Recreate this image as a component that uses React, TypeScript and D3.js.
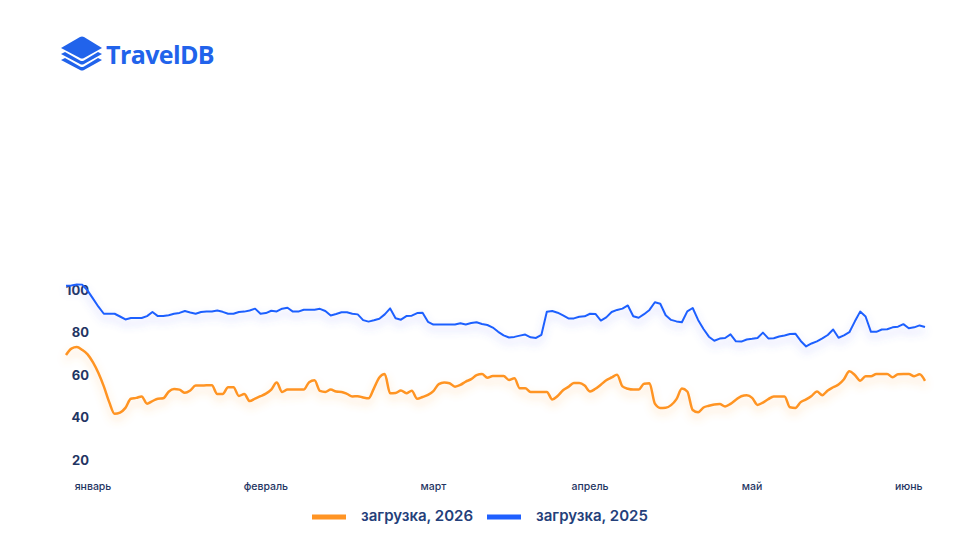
import { scaleLinear, line, curveMonotoneX, curveLinear } from 'd3'

// Daily load, two seasons.
const load2025 = [
  102.5, 102.6, 103.1, 103.0, 100.2, 96.4, 92.6, 89.3, 89.3, 89.3,
  88.0, 86.6, 87.3, 87.3, 87.3, 88.2, 90.1, 88.2, 88.2, 88.6,
  89.3, 89.7, 90.6, 89.9, 89.3, 90.1, 90.4, 90.4, 90.8, 90.2,
  89.3, 89.3, 90.1, 90.3, 90.8, 91.7, 89.3, 89.6, 90.7, 90.4,
  91.7, 92.1, 90.3, 90.3, 91.2, 91.2, 91.2, 91.6, 90.6, 88.5,
  89.2, 90.0, 90.0, 89.3, 89.0, 86.3, 85.6, 86.2, 86.9, 89.0,
  91.8, 87.2, 86.5, 88.2, 88.4, 89.6, 89.8, 85.5, 84.2, 84.2,
  84.2, 84.2, 84.2, 84.8, 84.2, 84.9, 85.3, 84.5, 84.0, 82.8,
  80.8, 79.1, 78.1, 78.4, 79.0, 79.5, 78.2, 77.9, 79.4, 90.2,
  90.6, 89.8, 88.5, 87.1, 87.1, 87.9, 88.1, 89.3, 89.2, 86.1,
  87.6, 90.1, 91.1, 91.7, 93.2, 88.1, 87.4, 89.1, 91.1, 94.7,
  94.0, 88.6, 86.4, 85.7, 85.3, 90.4, 92.0, 86.4, 82.1, 78.5,
  76.6, 77.6, 77.9, 79.6, 76.3, 76.2, 77.2, 77.5, 77.9, 80.4,
  77.7, 77.8, 78.6, 79.1, 79.8, 79.9, 76.5, 73.9, 75.3, 76.3,
  77.7, 79.3, 81.9, 78.0, 79.1, 80.6, 85.6, 90.3, 88.0, 80.8,
  80.8, 81.9, 82.0, 82.9, 83.2, 84.4, 82.5, 82.9, 83.8, 83.1,
]

const load2026 = [
  69.9, 72.9, 73.6, 72.3, 70.2, 66.4, 61.4, 55.1, 47.7, 42.2,
  42.8, 45.0, 49.3, 49.7, 50.4, 47.0, 48.2, 49.3, 49.5, 52.6,
  53.9, 53.6, 52.1, 53.2, 55.5, 55.5, 55.6, 55.6, 51.5, 51.5,
  54.7, 54.7, 50.6, 51.5, 48.2, 49.4, 50.5, 51.7, 53.6, 56.9,
  52.5, 53.6, 53.6, 53.6, 53.6, 57.1, 58.0, 53.0, 52.5, 53.6,
  52.7, 52.5, 51.6, 50.4, 50.5, 49.9, 49.5, 54.2, 59.3, 60.9,
  51.9, 52.0, 53.2, 51.9, 53.1, 49.3, 50.1, 51.1, 52.9, 56.2,
  57.0, 56.6, 55.0, 55.8, 57.4, 58.5, 60.4, 60.9, 59.2, 60.0,
  60.0, 60.0, 58.1, 58.9, 54.2, 54.2, 52.5, 52.5, 52.5, 52.5,
  49.0, 50.6, 53.3, 54.9, 56.7, 56.7, 55.5, 52.7, 54.0, 55.9,
  58.0, 59.3, 60.6, 55.1, 54.0, 53.6, 53.6, 56.4, 56.6, 47.0,
  45.0, 45.1, 46.3, 49.1, 54.1, 52.7, 44.0, 42.9, 45.2, 46.0,
  46.6, 46.8, 45.7, 46.9, 48.8, 50.5, 50.9, 49.7, 46.4, 47.5,
  49.1, 50.4, 50.4, 50.4, 45.3, 45.0, 47.7, 49.0, 50.6, 52.7,
  51.0, 53.2, 54.7, 56.0, 58.5, 62.2, 60.5, 57.8, 59.9, 59.9,
  60.9, 60.9, 60.9, 59.4, 60.8, 60.9, 60.9, 59.9, 60.8, 57.7,
]

const months = ['январь', 'февраль', 'март', 'апрель', 'май', 'июнь']
const monthIndex = [5, 37, 68, 97, 127, 156]
const yTicks = [20, 40, 60, 80, 100]
const seriesNames = ['загрузка, 2026', 'загрузка, 2025']

const W = 960
const H = 540
const ORANGE = '#ff9424'
const BLUE = '#1f60ff'
const INK = '#1f3563'
const FONT = 'Inter, "Noto Sans", sans-serif'

export default function App() {
  const x = scaleLinear().domain([0, load2025.length - 1]).range([66, 925])
  const y = scaleLinear().domain([20, 100]).range([461, 291])
  const path2025 = line<number>()
    .x((_, i) => x(i))
    .y((d) => y(d))
    .curve(curveLinear)(load2025)
  const path2026 = line<number>()
    .x((_, i) => x(i))
    .y((d) => y(d))
    .curve(curveMonotoneX)(load2026)

  return (
    <svg
      width={W}
      height={H}
      viewBox={`0 0 ${W} ${H}`}
      style={{ position: 'fixed', left: 0, top: 0, background: '#fff' }}
      fontFamily={FONT}
    >
      <defs>
        <filter id="glowBlue" x="-5%" y="-50%" width="110%" height="200%">
          <feDropShadow dx={0} dy={5} stdDeviation={4} floodColor="#5a6bff" floodOpacity={0.35} />
        </filter>
        <filter id="glowOrange" x="-5%" y="-50%" width="110%" height="200%">
          <feDropShadow dx={0} dy={5} stdDeviation={4} floodColor="#ffab4a" floodOpacity={0.4} />
        </filter>
      </defs>

      {/* logo */}
      <g fill="#2163eb">
        <path d="M61 48 L80 37 Q82 36 84 37 L102 48 L84 58 Q82 59 80 58 Z" />
        <path d="M61 54 L65 52 L80 60.5 Q82 61.5 84 60.5 L98 52 L102 54 L84 64 Q82 65 80 64 Z" />
        <path d="M61 60 L65 58 L80 66.5 Q82 67.5 84 66.5 L98 58 L102 60 L84 70 Q82 71 80 70 Z" />
      </g>
      <text x={106} y={64} fontSize={25} fontWeight={700} fill="#2163eb" fontFamily='"Open Sans", Inter, sans-serif' letterSpacing={-0.6}>
        TravelDB
      </text>

      {/* y labels */}
      {yTicks.map((t) => (
        <text key={t} x={89} y={y(t)} textAnchor="end" dominantBaseline="middle" fontSize={13} fontWeight={700} fill={INK}>
          {t}
        </text>
      ))}

      {/* lines */}
      {path2025 && (
        <path d={path2025} fill="none" stroke={BLUE} strokeWidth={2} strokeLinejoin="round" filter="url(#glowBlue)" />
      )}
      {path2026 && (
        <path d={path2026} fill="none" stroke={ORANGE} strokeWidth={2.5} strokeLinejoin="round" filter="url(#glowOrange)" />
      )}

      {/* month labels */}
      {months.map((m, i) => (
        <text key={m} x={x(monthIndex[i])} y={487} textAnchor="middle" dominantBaseline="middle" fontSize={10.5} fontWeight={500} fill={INK}>
          {m}
        </text>
      ))}

      {/* legend */}
      {seriesNames.map((name, i) => {
        const lx = 312 + i * 175
        return (
          <g key={name}>
            <line x1={lx} x2={lx + 34} y1={517} y2={517} stroke={i === 0 ? ORANGE : BLUE} strokeWidth={5} />
            <text x={lx + 49} y={517} dominantBaseline="middle" fontSize={15} fontWeight={600} fill="#24407a">
              {name}
            </text>
          </g>
        )
      })}
    </svg>
  )
}
